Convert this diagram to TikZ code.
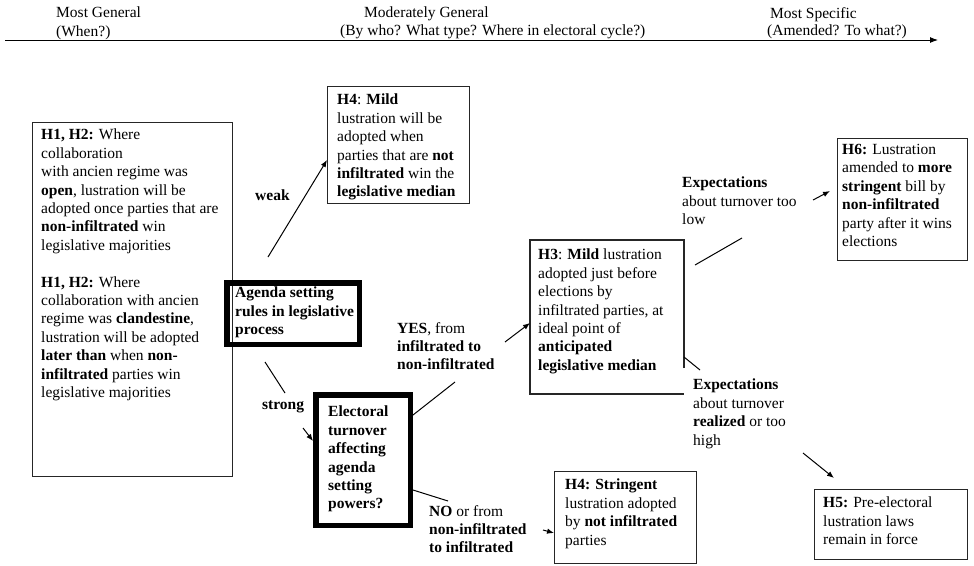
\documentclass[tikz,border=0pt]{standalone}
\usepackage{fontspec}
\setmainfont{Liberation Serif}
\usetikzlibrary{arrows.meta}
\begin{document}
\begin{tikzpicture}[x=1pt,y=-1pt,
  txt/.style={inner sep=0pt, anchor=north west, align=left, font=\fontsize{15.5}{18.4}\selectfont},
  btxt/.style={txt, font=\fontsize{15.5}{18.4}\selectfont\bfseries},
  thinbox/.style={draw=black!85, line width=1.2pt, anchor=north west, inner sep=0pt},
  thickbox/.style={draw=black, line width=5.5pt, anchor=north west, inner sep=0pt},
  conn/.style={draw=black, line width=1pt},
  arr/.style={conn, -{Latex[length=7pt,width=5.5pt]}}]
\fill[white] (0,0) rectangle (974,565);
\useasboundingbox (0,0) rectangle (974,565);

% axis
\node[txt] (mg) at (56,7) {Most General\\(When?)};
\node[txt] (modg1) at (364,7) {Moderately General};
\node[txt] (modg2) at (340,25) {(By who? What type? Where in electoral cycle?)};
\node[txt] (ms1) at (770,7) {Most Specific};
\node[txt] (ms2) at (767,25) {(Amended? To what?)};
\coordinate (axl) at (5,40);
\coordinate (axr) at (938,40);
\draw[conn, -{Latex[length=8pt,width=6pt]}] (axl) -- (axr);

% boxes
\node[thinbox, minimum width=199.8pt, minimum height=353.8pt] (h1) at (32,122) {};
\node[txt] (h1t) at (41,129) {\textbf{H1, H2:} Where\\
collaboration\\
with ancien regime was\\
\textbf{open}, lustration will be\\
adopted once parties that are\\
\textbf{non-infiltrated} win\\
legislative majorities\\[18.4pt]
\textbf{H1, H2:} Where\\
collaboration with ancien\\
regime was \textbf{clandestine},\\
lustration will be adopted\\
\textbf{later than} when \textbf{non-}\\
\textbf{infiltrated} parties win\\
legislative majorities};

\node[thinbox, minimum width=141.8pt, minimum height=116.8pt] (h4m) at (327,86) {};
\node[txt] (h4mt) at (337,94) {\textbf{H4}: \textbf{Mild}\\
lustration will be\\
adopted when\\
parties that are \textbf{not}\\
\textbf{infiltrated} win the\\
\textbf{legislative median}};

\node[thickbox, minimum width=132.5pt, minimum height=61.5pt] (ag) at (224,280) {};
\node[btxt] (agt) at (235,287) {Agenda setting\\rules in legislative\\process};

\node[thickbox, minimum width=94.5pt, minimum height=130.5pt] (el) at (313,392) {};
\node[btxt] (elt) at (328,406) {Electoral\\turnover\\affecting\\agenda\\setting\\powers?};

\node[anchor=north west, inner sep=0pt, line width=1.2pt, minimum width=152.8pt, minimum height=152.8pt] (h3) at (530,240) {};
\draw[draw=black!85, line width=1.2pt] ([yshift=-128pt]h3.north east) -- (h3.north east) -- (h3.north west) -- (h3.south west) -- (h3.south east);
\node[txt] (h3t) at (538,249) {\textbf{H3}: \textbf{Mild} lustration\\
adopted just before\\
elections by\\
infiltrated parties, at\\
ideal point of\\
\textbf{anticipated}\\
\textbf{legislative median}};

\node[thinbox, minimum width=129.8pt, minimum height=121.8pt] (h6) at (837,138) {};
\node[txt] (h6t) at (842,144) {\textbf{H6:} Lustration\\
amended to \textbf{more}\\
\textbf{stringent} bill by\\
\textbf{non-infiltrated}\\
party after it wins\\
elections};

\node[thinbox, minimum width=141.8pt, minimum height=92pt] (h4s) at (554,471) {};
\node[txt] (h4st) at (565,479) {\textbf{H4: Stringent}\\
lustration adopted\\
by \textbf{not infiltrated}\\
parties};

\node[thinbox, minimum width=152.8pt, minimum height=69.8pt] (h5) at (814,489) {};
\node[txt] (h5t) at (823,497) {\textbf{H5:} Pre-electoral\\
lustration laws\\
remain in force};

% labels
\node[btxt] (weak) at (255,190) {weak};
\node[btxt] (strong) at (262,401) {strong};
\node[txt] (yes) at (397,322) {\textbf{YES}, from\\\textbf{infiltrated to}\\\textbf{non-infiltrated}};
\node[txt] (no) at (429,505) {\textbf{NO} or from\\\textbf{non-infiltrated}\\\textbf{to infiltrated}};
\node[txt] (expup) at (682,177) {\textbf{Expectations}\\about turnover too\\low};
\node[txt] (explow) at (693,379) {\textbf{Expectations}\\about turnover\\\textbf{realized} or too\\high};

% connectors
\coordinate (w1) at (268,257);
\draw[arr] (w1) -- ([yshift=44pt]h4m.south west);

\coordinate (s1) at (265,362);
\coordinate (s2) at (285,393);
\coordinate (s3) at (303,428);
\draw[conn] (s1) -- (s2);
\draw[arr] (s3) -- ([yshift=-49pt]el.north west);

\coordinate (y1) at (455,382);
\coordinate (y2) at (505,342);
\draw[conn] ([yshift=-23pt]el.north east) -- (y1);
\draw[arr] (y2) -- ([yshift=-83pt]h3.north west);

\coordinate (n1) at (448,501);
\coordinate (n2) at (543,530);
\draw[conn] ([yshift=-98pt]el.north east) -- (n1);
\draw[arr] (n2) -- ([yshift=-62pt]h4s.north west);

\coordinate (u1) at (695,265);
\coordinate (u2) at (742,238);
\coordinate (u3) at (813,200);
\coordinate (u4) at (830,191);
\draw[conn] (u1) -- (u2);
\draw[arr] (u3) -- (u4);

\coordinate (l1) at (700,370);
\coordinate (l2) at (803,453);
\coordinate (l3) at (834,478);
\draw[conn] ([yshift=-117pt]h3.north east) -- (l1);
\draw[arr] (l2) -- (l3);
\end{tikzpicture}
\end{document}
